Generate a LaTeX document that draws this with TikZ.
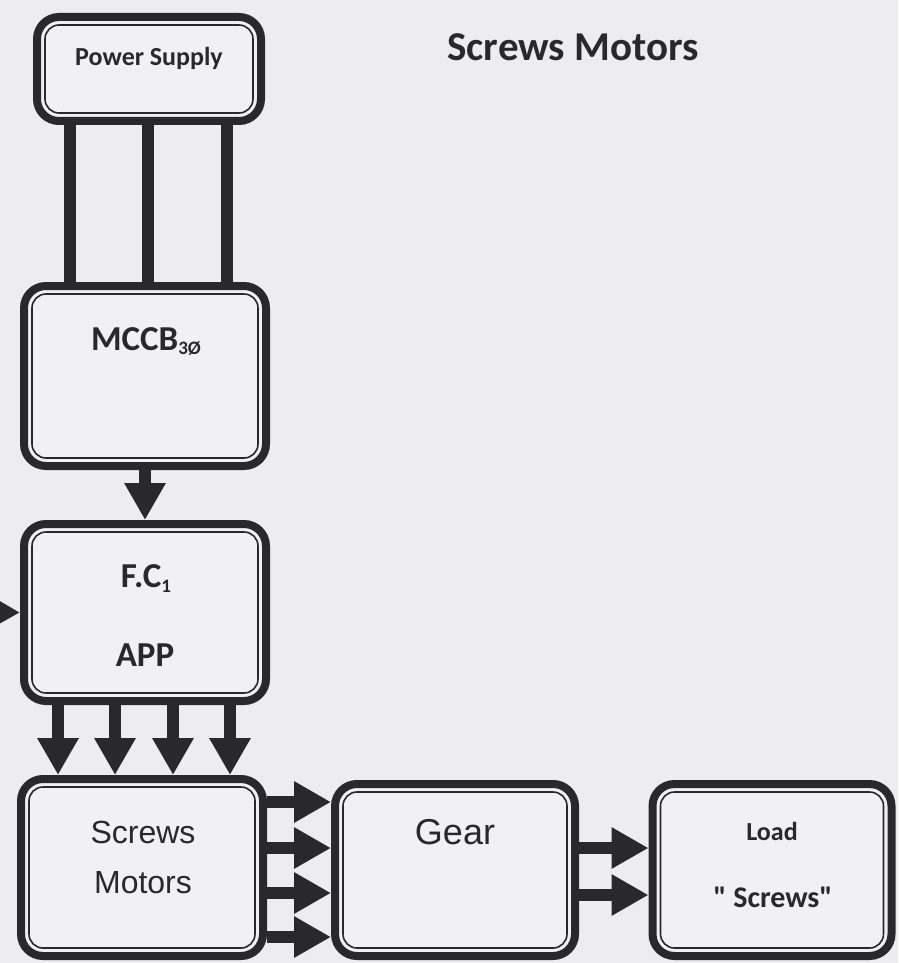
\documentclass[tikz,border=0pt]{standalone}
\usepackage{fontspec}
\setmainfont{Carlito}
\newfontfamily\arialfont{Liberation Sans}
\usetikzlibrary{arrows.meta}
\definecolor{bg}{RGB}{236,236,241}
\definecolor{boxfill}{RGB}{241,241,245}
\definecolor{ink}{RGB}{40,40,45}
\tikzset{
  box/.style={draw=ink, line width=8pt, rounded corners=22pt, fill=boxfill, inner sep=0pt},
  innerline/.style={draw=ink, line width=1.6pt, rounded corners=14pt},
  lbl/.style={anchor=base, inner sep=0pt, text=ink},
  wire/.style={draw=ink, line width=12pt},
  arr/.style={draw=ink, line width=12pt, -{Triangle[length=37pt,width=39pt]}},
}
\begin{document}
\begin{tikzpicture}[x=1pt,y=-1pt]
\fill[bg] (0,0) rectangle (898,963);
\useasboundingbox (0,0) rectangle (898,963);
\clip (0,0) rectangle (898,963);

% boxes
\node[box, minimum width=224pt, minimum height=104pt] (ps)   at (149,69) {};
\node[box, minimum width=242pt, minimum height=180pt] (mccb) at (145,376) {};
\node[box, minimum width=242pt, minimum height=177pt] (fc)   at (145,612.5) {};
\node[box, minimum width=242pt, minimum height=177pt] (sm)   at (142,867.5) {};
\node[box, minimum width=240pt, minimum height=172pt] (gear) at (455,870) {};
\node[box, minimum width=239pt, minimum height=172pt] (load) at (772,870) {};

\foreach \b in {ps,mccb,fc,sm,gear,load}
  \draw[innerline] ([shift={(12pt,12pt)}]\b.south west) rectangle ([shift={(-12pt,-12pt)}]\b.north east);

% power lines
\foreach \x in {70,148,227}
  \draw[wire] (ps.south -| \x,0) -- (mccb.north -| \x,0);

% MCCB -> FC
\draw[arr] (mccb.south) -- (fc.north);

% incoming arrow at left edge
\coordinate (leftin) at (-40,612);
\draw[arr] (leftin) -- (fc.west);

% FC -> Screws Motors
\foreach \x in {58,115,173,230}
  \draw[arr] (fc.south -| \x,0) -- (sm.north -| \x,0);

% Screws Motors -> Gear
\foreach \y in {802,848,893,937}
  \draw[arr] (sm.east |- 0,\y) -- (gear.west |- 0,\y);

% Gear -> Load
\foreach \y in {848,895}
  \draw[arr] (gear.east |- 0,\y) -- (load.west |- 0,\y);

% texts
\node[lbl, font=\fontsize{41}{45}\selectfont\bfseries] (title) at (573,61) {Screws Motors};
\node[lbl, font=\fontsize{26}{28}\selectfont\bfseries] (pst) at (149,65.5) {Power Supply};
\node[lbl, font=\fontsize{35}{40}\selectfont\bfseries] (mccbt) at (146,350) {MCCB\raisebox{-4pt}{\fontsize{19}{20}\selectfont 3Ø}};
\node[lbl, font=\fontsize{35}{40}\selectfont\bfseries] (fct) at (146,587) {F.C\raisebox{-5pt}{\fontsize{19}{20}\selectfont 1}};
\node[lbl, font=\fontsize{35}{40}\selectfont\bfseries] (appt) at (145,666) {APP};
\node[lbl, font=\arialfont\fontsize{32}{36}\selectfont] (smt1) at (143,843) {Screws};
\node[lbl, font=\arialfont\fontsize{32}{36}\selectfont] (smt2) at (143,893.5) {Motors};
\node[lbl, font=\arialfont\fontsize{36}{40}\selectfont] (geart) at (455,844) {Gear};
\node[lbl, font=\fontsize{26}{30}\selectfont\bfseries] (loadt) at (772,840) {Load};
\node[lbl, font=\fontsize{30}{34}\selectfont\bfseries] (loadt2) at (773,907) {\textquotedbl{} Screws\textquotedbl};
\end{tikzpicture}
\end{document}
